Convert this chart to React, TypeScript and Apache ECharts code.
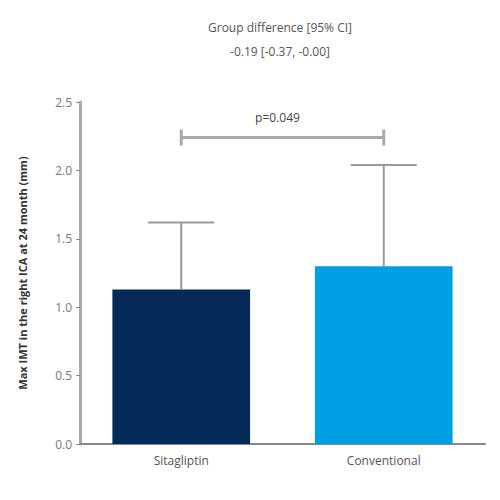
import React, { useEffect, useRef } from "react";
import * as echarts from "echarts";

const categories = ["Sitagliptin", "Conventional"];
const means = [1.13, 1.3];
const upperErrors = [1.62, 2.04];
const barColors = ["#062a57", "#009fe3"];
const yTicks = [0, 0.5, 1.0, 1.5, 2.0, 2.5];
const titleLines = ["Group difference [95% CI]", "-0.19 [-0.37, -0.00]"];
const pLabel = "p=0.049";
const bracketLevel = 2.24;
const yAxisName = "Max IMT in the right ICA at 24 month (mm)";

export default function App() {
  const ref = useRef<HTMLDivElement>(null);
  useEffect(() => {
    if (!ref.current) return;
    const chart = echarts.init(ref.current, null, { renderer: "svg" });
    const font = "'Open Sans', sans-serif";
    chart.setOption({
      animation: false,
      title: {
        text: titleLines.join("\n"),
        left: 267,
        textAlign: "center",
        top: 2,
        textStyle: {
          fontFamily: font,
          fontSize: 12,
          fontWeight: "normal",
          color: "#555",
          lineHeight: 24,
        },
      },
      grid: { left: 72, right: 23, top: 94, bottom: 64 },
      xAxis: {
        type: "category",
        data: categories,
        axisLine: { lineStyle: { color: "#888", width: 2 } },
        axisTick: { alignWithLabel: true, lineStyle: { color: "#888" }, length: 5 },
        axisLabel: { fontFamily: font, fontSize: 12, color: "#555", margin: 10 },
      },
      yAxis: {
        type: "value",
        min: 0,
        max: 2.5,
        interval: 0.5,
        name: yAxisName,
        nameLocation: "middle",
        nameGap: 52,
        nameTextStyle: { fontFamily: font, fontSize: 11, fontWeight: "bold", color: "#333" },
        axisLine: { show: true, lineStyle: { color: "#aaa", width: 3 } },
        axisTick: { show: true, lineStyle: { color: "#888" }, length: 4 },
        splitLine: { show: false },
        axisLabel: {
          fontFamily: font,
          fontSize: 12,
          color: "#777",
          formatter: (v: number) => (yTicks.includes(v) ? v.toFixed(1) : ""),
        },
      },
      series: [
        {
          type: "bar",
          barWidth: "68%",
          data: means.map((v, i) => ({ value: v, itemStyle: { color: barColors[i] } })),
          z: 2,
        },
        {
          type: "custom",
          z: 3,
          data: means.map((m, i) => [i, m, upperErrors[i]]),
          renderItem: (params: any, api: any) => {
            const x = api.value(0);
            const low = api.coord([x, api.value(1)]);
            const high = api.coord([x, api.value(2)]);
            const half = 33;
            const style = { stroke: "#999", lineWidth: 2 };
            return {
              type: "group",
              children: [
                { type: "line", shape: { x1: low[0], y1: low[1], x2: high[0], y2: high[1] }, style },
                { type: "line", shape: { x1: high[0] - half, y1: high[1], x2: high[0] + half, y2: high[1] }, style },
              ],
            };
          },
        },
        {
          type: "custom",
          z: 3,
          data: [[0, 1, bracketLevel]],
          renderItem: (params: any, api: any) => {
            const a = api.coord([api.value(0), api.value(2)]);
            const b = api.coord([api.value(1), api.value(2)]);
            const style = { stroke: "#aaa", lineWidth: 3 };
            return {
              type: "group",
              children: [
                { type: "line", shape: { x1: a[0], y1: a[1], x2: b[0], y2: b[1] }, style },
                { type: "line", shape: { x1: a[0], y1: a[1] - 8, x2: a[0], y2: a[1] + 8 }, style },
                { type: "line", shape: { x1: b[0], y1: b[1] - 8, x2: b[0], y2: b[1] + 8 }, style },
                {
                  type: "text",
                  style: {
                    text: pLabel,
                    x: (a[0] + b[0]) / 2 - 5,
                    y: a[1] - 20,
                    textAlign: "center",
                    textVerticalAlign: "middle",
                    fill: "#444",
                    font: "12px 'Open Sans', sans-serif",
                  },
                },
              ],
            };
          },
        },
      ],
    });
    return () => chart.dispose();
  }, []);
  return <div ref={ref} style={{ width: 500, height: 500 }} />;
}
